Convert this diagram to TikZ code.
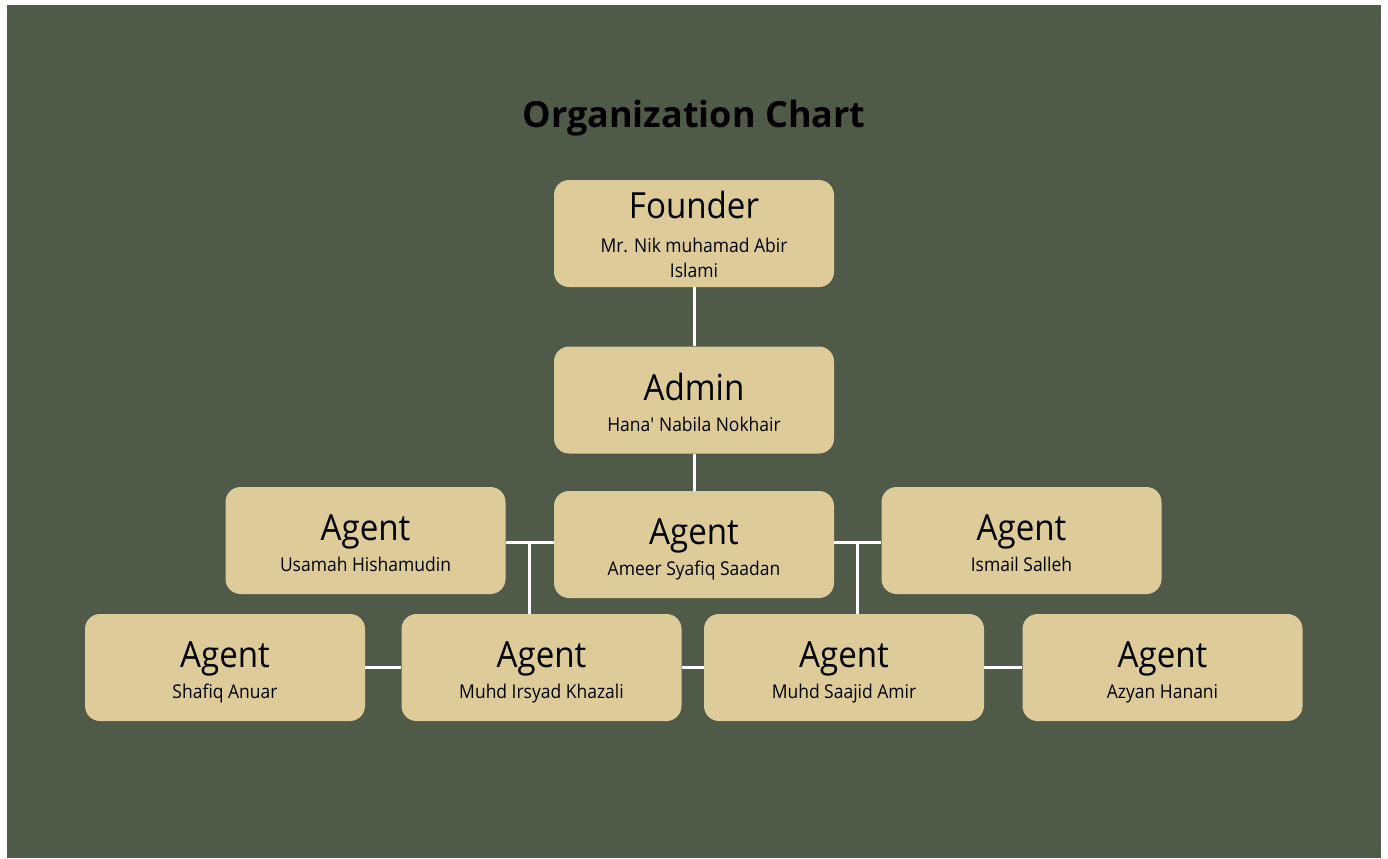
\documentclass[tikz,border=0pt]{standalone}
\usepackage{fontspec}
\setmainfont{Open Sans}[FakeStretch=0.92]
\newfontfamily\headfont{Open Sans}
\usepackage{tikz}
\usetikzlibrary{calc}
\definecolor{olive}{HTML}{505A48}
\definecolor{sand}{HTML}{DECB9A}

\begin{document}
\begin{tikzpicture}[x=0.5pt,y=-0.5pt]
								\tikzstyle{box}=[rectangle,rounded corners=7.5pt,fill=sand,minimum width=140pt,minimum height=53.5pt,inner sep=0pt,align=center,text=black]
								\tikzstyle{link}=[draw=white,line width=1.5pt]
								\useasboundingbox (0,0) rectangle (1388,858);
								\fill[white] (0,0) rectangle (1388,858);
								\fill[olive] (7,5) rectangle (1381,858);
								\node[anchor=base] (t) at (694,127) {\headfont\bfseries\fontsize{18}{21}\selectfont Organization Chart};
								% struts keep the two lines at the same place in every box
								\node[box] (1) at (694,233.5) {\rule{0pt}{17pt}\fontsize{18}{21}\selectfont Founder\\[5pt]\fontsize{9.5}{12}\selectfont Mr. Nik muhamad Abir\\[0.5pt]\fontsize{9.5}{12}\selectfont Islami\rule[-3pt]{0pt}{3pt}};
								\node[box] (2) at (694,400) {\rule{0pt}{18.5pt}\fontsize{18}{21}\selectfont Admin\\[3.5pt]\fontsize{9.5}{12}\selectfont Hana\textquotesingle{} Nabila Nokhair\rule[-3pt]{0pt}{3pt}};
								\node[box] (3) at (694,544.5) {\rule{0pt}{18.5pt}\fontsize{18}{21}\selectfont Agent\\[3.5pt]\fontsize{9.5}{12}\selectfont Ameer Syafiq Saadan\rule[-3pt]{0pt}{3pt}};
								\node[box] (4) at (365.5,540.5) {\rule{0pt}{18.5pt}\fontsize{18}{21}\selectfont Agent\\[3.5pt]\fontsize{9.5}{12}\selectfont Usamah Hishamudin\rule[-3pt]{0pt}{3pt}};
								\node[box] (5) at (1021.5,540.5) {\rule{0pt}{18.5pt}\fontsize{18}{21}\selectfont Agent\\[3.5pt]\fontsize{9.5}{12}\selectfont Ismail Salleh\rule[-3pt]{0pt}{3pt}};
								\node[box] (6) at (225,667.5) {\rule{0pt}{18.5pt}\fontsize{18}{21}\selectfont Agent\\[3.5pt]\fontsize{9.5}{12}\selectfont Shafiq Anuar\rule[-3pt]{0pt}{3pt}};
								\node[box] (7) at (541.5,667.5) {\rule{0pt}{18.5pt}\fontsize{18}{21}\selectfont Agent\\[3.5pt]\fontsize{9.5}{12}\selectfont Muhd Irsyad Khazali\rule[-3pt]{0pt}{3pt}};
								\node[box] (8) at (844,667.5) {\rule{0pt}{18.5pt}\fontsize{18}{21}\selectfont Agent\\[3.5pt]\fontsize{9.5}{12}\selectfont Muhd Saajid Amir\rule[-3pt]{0pt}{3pt}};
								\node[box] (9) at (1162.5,667.5) {\rule{0pt}{18.5pt}\fontsize{18}{21}\selectfont Agent\\[3.5pt]\fontsize{9.5}{12}\selectfont Azyan Hanani\rule[-3pt]{0pt}{3pt}};
								\draw[link] (1) -- (2);
								\draw[link] (2) -- (3);
								% junctions between the middle row boxes
								\coordinate (a) at ($(4.east)!.5!(3.west)$);
								\coordinate (b) at ($(3.east)!.5!(5.west)$);
								\draw[link] (a -| 4.east) -- (a -| 3.west);
								\draw[link] (b -| 3.east) -- (b -| 5.west);
								\draw[link] (a) -- (a |- 7.north);
								\draw[link] (b) -- (b |- 8.north);
								\draw[link] (6) -- (7);
								\draw[link] (7) -- (8);
								\draw[link] (8) -- (9);
							\end{tikzpicture}
\end{document}
